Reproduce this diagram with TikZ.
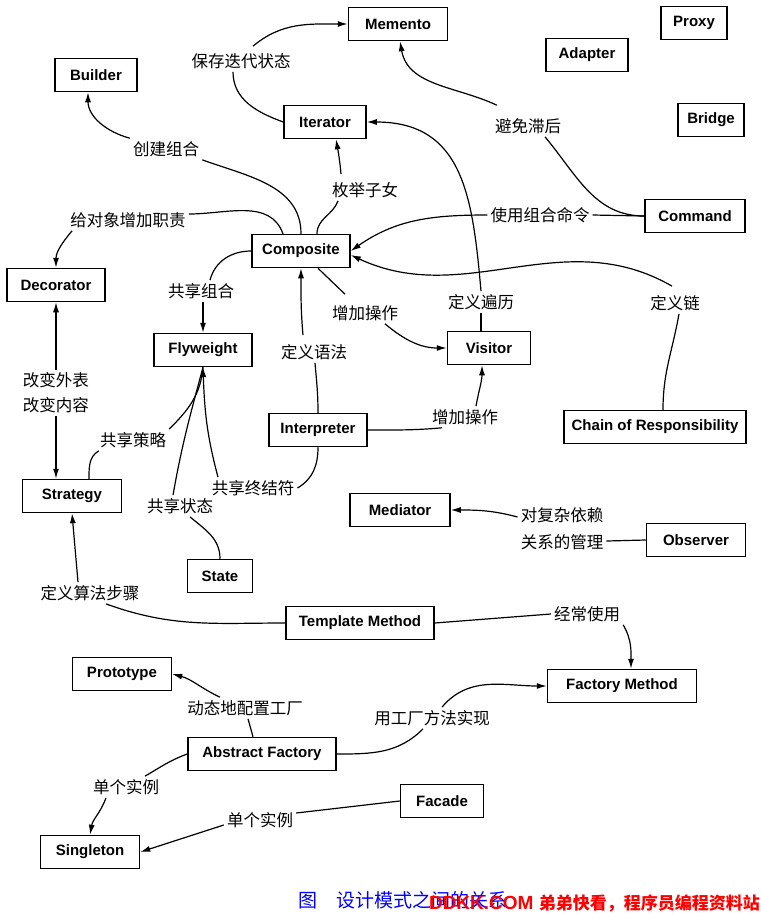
\documentclass[tikz,border=0pt]{standalone}
\usepackage{fontspec}
\setmainfont{Liberation Sans}
\newfontfamily\cjk{Noto Sans CJK SC}
\usetikzlibrary{arrows.meta}

\newcommand{\patternfont}{\bfseries\fontsize{15}{17}\selectfont}
\newcommand{\relfont}{\cjk\fontsize{16.5}{25}\selectfont}

\begin{document}
\begin{tikzpicture}[x=1pt, y=1pt, >={Latex[length=10pt,width=6pt]}]
        \tikzstyle{patbox}=[draw, line width=1.5pt, minimum height=33pt, font=\patternfont]
        \tikzstyle{rellbl}=[font=\relfont, inner sep=3pt, align=center]
        \tikzstyle{relline}=[line width=1.2pt]

        \useasboundingbox (0,0) rectangle (761,-914);

        % patterns
        \node (memento)     [patbox, minimum width=99pt]  at (398,-24)  {Memento};
        \node (proxy)       [patbox, minimum width=66pt]  at (694,-23)  {Proxy};
        \node (adapter)     [patbox, minimum width=82pt]  at (587,-55)  {Adapter};
        \node (bridge)      [patbox, minimum width=66pt]  at (711,-120) {Bridge};
        \node (builder)     [patbox, minimum width=82pt]  at (96,-75)   {Builder};
        \node (iterator)    [patbox, minimum width=82pt]  at (325,-122) {Iterator};
        \node (command)     [patbox, minimum width=100pt] at (695,-216) {Command};
        \node (composite)   [patbox, minimum width=98pt]  at (301,-251) {Composite};
        \node (decorator)   [patbox, minimum width=98pt]  at (56,-285)  {Decorator};
        \node (flyweight)   [patbox, minimum width=98pt]  at (203,-350) {Flyweight};
        \node (interpreter) [patbox, minimum width=98pt]  at (318,-430) {Interpreter};
        \node (strategy)    [patbox, minimum width=99pt]  at (72,-496)  {Strategy};
        \node (state)       [patbox, minimum width=65pt]  at (220,-576) {State};
        \node (mediator)    [patbox, minimum width=100pt] at (400,-510) {Mediator};
        \node (visitor)     [patbox, minimum width=83pt]  at (489,-348) {Visitor};
        \node (chain)       [patbox, minimum width=182pt] at (655,-427) {Chain of Responsibility};
        \node (observer)    [patbox, minimum width=99pt]  at (696,-540) {Observer};
        \node (template)    [patbox, minimum width=148pt] at (360,-623) {Template Method};
        \node (factorym)    [patbox, minimum width=149pt] at (622,-686) {Factory Method};
        \node (prototype)   [patbox, minimum width=99pt]  at (122,-674) {Prototype};
        \node (abstract)    [patbox, minimum width=148pt] at (262,-754) {Abstract Factory};
        \node (facade)      [patbox, minimum width=83pt]  at (442,-801) {Facade};
        \node (singleton)   [patbox, minimum width=99pt]  at (90,-852)  {Singleton};

        % relations
        \node (saveiter)   [rellbl] at (241,-61)  {保存迭代状态};
        \node (avoidlag)   [rellbl] at (528,-126) {避免滞后};
        \node (buildcomp)  [rellbl] at (166,-149) {创建组合};
        \node (enumchild)  [rellbl] at (365,-190) {枚举子女};
        \node (addresp)    [rellbl] at (128,-220) {给对象增加职责};
        \node (usecomp)    [rellbl] at (540,-215) {使用组合命令};
        \node (defchain)   [rellbl] at (675,-303) {定义链};
        \node (deftrav)    [rellbl] at (481,-302) {定义遍历};
        \node (addop)      [rellbl] at (365,-313) {增加操作};
        \node (defgram)    [rellbl] at (314,-352) {定义语法};
        \node (addopb)     [rellbl] at (465,-417) {增加操作};
        \node (sharecomp)  [rellbl] at (201,-291) {共享组合};
        \node (skin)       [rellbl] at (56,-393)  {改变外表\\改变内容};
        \node (sharestrat) [rellbl] at (133,-440) {共享策略};
        \node (sharestate) [rellbl] at (180,-506) {共享状态};
        \node (shareterm)  [rellbl] at (253,-488) {共享终结符};
        \node (depend)     [rellbl] at (562,-529) {对复杂依赖\\[2pt]关系的管理};
        \node (defalgo)    [rellbl] at (90,-593)  {定义算法步骤};
        \node (oftenuse)   [rellbl] at (587,-614) {经常使用};
        \node (config)     [rellbl] at (245,-708) {动态地配置工厂};
        \node (implfm)     [rellbl] at (432,-718) {用工厂方法实现};
        \node (singlea)    [rellbl] at (126,-787) {单个实例};
        \node (singleb)    [rellbl] at (260,-820) {单个实例};

        % connectors
        \draw[relline] (iterator.west) to[out=160,in=-90] ([xshift=-8pt]saveiter.south);
        \draw[relline,->] ([xshift=12pt,yshift=4pt]saveiter.north) to[out=40,in=180] (memento.west);

        \draw[relline] (command.west) to[out=180,in=-50] ([xshift=17pt]avoidlag.south);
        \draw[relline,->] ([xshift=5pt,yshift=10pt]avoidlag.north west) to[out=155,in=-80] ([xshift=2pt]memento.south);

        \draw[relline] (composite.north) to[out=90,in=-20] (buildcomp.south east);
        \draw[relline,->] (buildcomp.north west) to[out=165,in=-90] ([xshift=-8pt]builder.south);

        \draw[relline] ([xshift=16pt]composite.north) to[out=90,in=-110] ([xshift=-27pt]enumchild.south);
        \draw[relline,->] ([xshift=-24pt,yshift=5pt]enumchild.north) to[out=95,in=-80] ([xshift=11pt]iterator.south);

        \draw[relline] ([xshift=-18pt]composite.north) to[out=110,in=0] ([yshift=6pt]addresp.east);
        \draw[relline,->] ([xshift=5pt]addresp.south west) to[out=-130,in=90] (decorator.north);

        \draw[relline] (command.west) -- (usecomp.east);
        \draw[relline,->] (usecomp.west) to[out=180,in=35] (composite.east);

        \draw[relline] ([xshift=8pt]chain.north) to[out=90,in=-100] ([xshift=4pt]defchain.south);
        \draw[relline,->] ([xshift=-3pt,yshift=6pt]defchain.north) to[out=150,in=-25] ([yshift=-4pt]composite.east);

        \draw[relline] ([xshift=-8pt]visitor.north) -- (deftrav.south);
        \draw[relline,->] (deftrav.north) to[out=95,in=0,looseness=1.2] (iterator.east);

        \draw[relline] ([xshift=17pt]composite.south) -- ([xshift=-20pt,yshift=8pt]addop.north);
        \draw[relline,->] ([xshift=20pt]addop.south) to[out=-40,in=180] (visitor.west);

        \draw[relline] (interpreter.north) to[out=90,in=-85] ([xshift=1pt]defgram.south);
        \draw[relline,->] ([xshift=-11pt,yshift=6pt]defgram.north) to[out=95,in=-90] (composite.south);

        \draw[relline] (interpreter.east) to[out=0,in=185] ([xshift=-23pt]addopb.south);
        \draw[relline,->] ([xshift=11pt]addopb.north) to[out=80,in=-90] ([xshift=-7pt]visitor.south);

        \draw[relline] (composite.west) to[out=180,in=75] ([xshift=9pt]sharecomp.north);
        \draw[relline,->] ([xshift=2pt]sharecomp.south) -- (flyweight.north);

        \draw[relline,->] (skin.north) -- (decorator.south);
        \draw[relline,->] (skin.south) -- ([xshift=-16pt]strategy.north);

        \draw[relline] ([xshift=17pt]strategy.north) to[out=90,in=-150] ([xshift=2pt]sharestrat.south west);
        \draw[relline] (sharestrat.north east) to[out=45,in=-95] (flyweight.south);
        \draw[relline] (state.north) to[out=90,in=-40] ([xshift=10pt]sharestate.south);
        \draw[relline] ([xshift=-7pt]sharestate.north) to[out=80,in=-105] (flyweight.south);
        \draw[relline] (interpreter.south) to[out=-90,in=30] (shareterm.east);
        \draw[relline,->] ([xshift=-35pt]shareterm.north) to[out=105,in=-88] (flyweight.south);

        \draw[relline] (observer.west) -- ([yshift=-12pt]depend.east);
        \draw[relline,->] ([yshift=12pt]depend.west) to[out=165,in=0] (mediator.east);

        \draw[relline] (template.west) to[out=180,in=-20] ([xshift=16pt]defalgo.south);
        \draw[relline,->] ([xshift=-12pt]defalgo.north) to[out=95,in=-85] (strategy.south);

        \draw[relline] (template.east) -- (oftenuse.west);
        \draw[relline,->] (oftenuse.south east) to[out=-60,in=90] ([xshift=9pt]factorym.north);

        \draw[relline] (abstract.east) to[out=0,in=-135] ([xshift=-9pt]implfm.south);
        \draw[relline,->] ([xshift=10pt]implfm.north) to[out=50,in=180] (factorym.west);

        \draw[relline] ([xshift=-9pt]abstract.north) -- ([xshift=3pt]config.south);
        \draw[relline,->] ([xshift=-25pt]config.north) to[out=155,in=-15] (prototype.east);

        \draw[relline] (abstract.west) to[out=200,in=30] ([xshift=19pt]singlea.north);
        \draw[relline,->] ([xshift=-20pt]singlea.south) to[out=-110,in=80] (singleton.north);

        \draw[relline] (facade.west) -- ([yshift=7pt]singleb.east);
        \draw[relline,->] ([yshift=-5pt]singleb.west) -- (singleton.east);

        % caption
        \node (caption) [anchor=west, inner sep=0pt, text=blue, font=\cjk\fontsize{19}{20}\selectfont] at (298,-900) {图\quad 设计模式之间的关系};
        \node (mark) [anchor=east, inner sep=0pt, text=red, font=\bfseries\fontsize{19}{20}\selectfont] at (760,-903) {DDKK.COM {\cjk\fontsize{17}{20}\selectfont 弟弟快看，程序员编程资料站}};

    \end{tikzpicture}
\end{document}
